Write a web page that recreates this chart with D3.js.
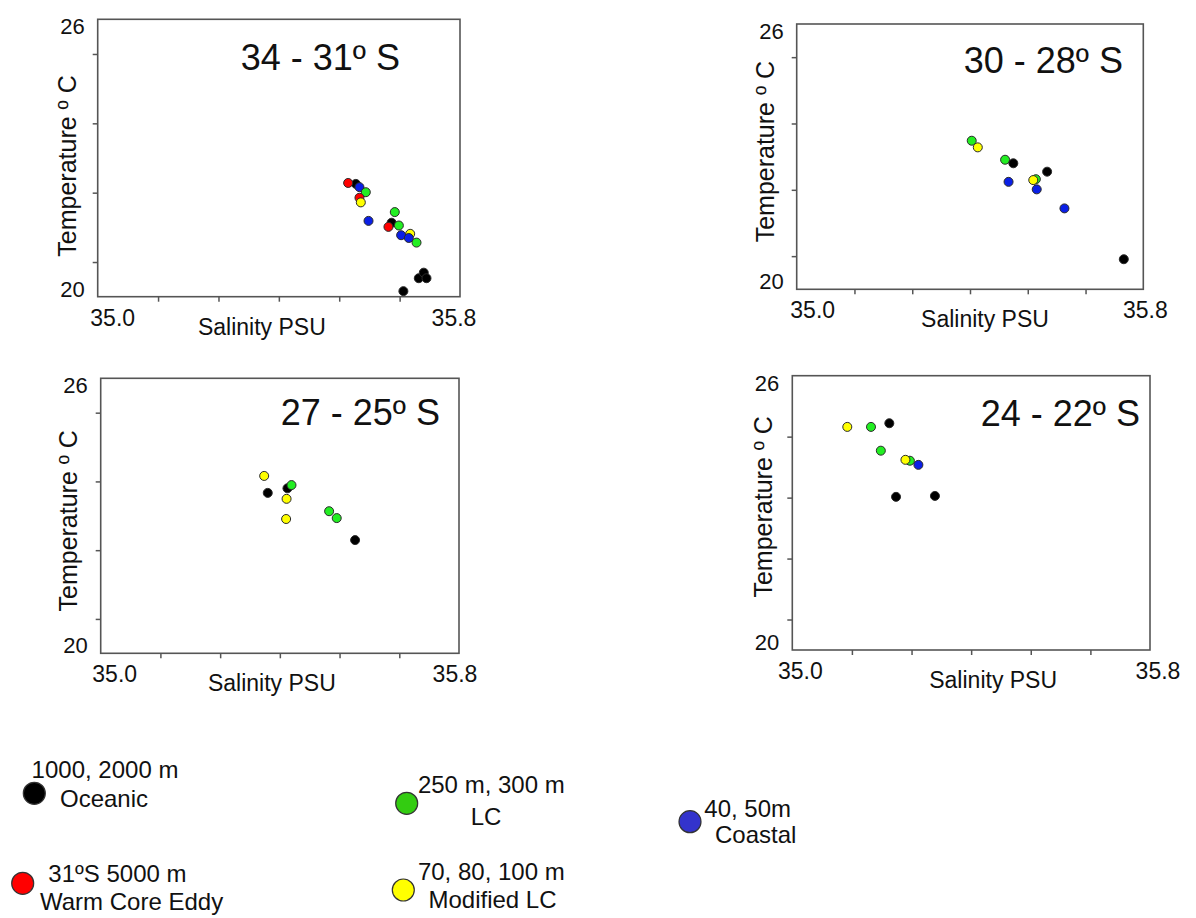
<!DOCTYPE html>
<html>
<head>
<meta charset="utf-8">
<script src="https://cdn.jsdelivr.net/npm/d3@7/dist/d3.min.js"></script>
<style>
  html, body { margin: 0; padding: 0; background: #fff; }
  svg { display: block; }
  text { font-family: "Liberation Sans", Arial, sans-serif; fill: #111; }
</style>
</head>
<body>
<svg id="chart" width="1196" height="918"></svg>
<script>
// T-S diagrams by latitude band, coloured by water mass / sampling depth.
const panelTitles = ["34 - 31º S", "30 - 28º S", "27 - 25º S", "24 - 22º S"];
const xLabel = "Salinity PSU";
const yLabel = "Temperature º C";
const salinityDomain = [35.0, 35.8];
const temperatureDomain = [20, 26];
const xEndLabels = ["35.0", "35.8"];
const yEndLabels = ["20", "26"];
const xTickValues = [35.1333, 35.2667, 35.4, 35.5333, 35.6667];
const yTickValuesA = [20.75, 22.25, 23.75, 25.25];
const yTickValuesB = [20.667, 22.0, 23.333, 24.667];

// [salinity, temperature, water mass] in drawing order
const band34to31 = [
  [35.570, 22.44, "oceanic"],
  [35.553, 22.46, "eddy"],
  [35.578, 22.37, "coastal"],
  [35.592, 22.26, "lc"],
  [35.578, 22.14, "eddy"],
  [35.581, 22.04, "modlc"],
  [35.598, 21.64, "coastal"],
  [35.649, 21.60, "oceanic"],
  [35.656, 21.83, "lc"],
  [35.642, 21.51, "eddy"],
  [35.665, 21.54, "lc"],
  [35.690, 21.36, "modlc"],
  [35.670, 21.33, "coastal"],
  [35.687, 21.27, "coastal"],
  [35.704, 21.17, "lc"],
  [35.709, 20.40, "oceanic"],
  [35.720, 20.52, "oceanic"],
  [35.726, 20.40, "oceanic"],
  [35.675, 20.12, "oceanic"]
];
const band30to28 = [
  [35.404, 23.36, "lc"],
  [35.418, 23.21, "modlc"],
  [35.481, 22.93, "lc"],
  [35.500, 22.85, "oceanic"],
  [35.578, 22.66, "oceanic"],
  [35.552, 22.49, "lc"],
  [35.546, 22.47, "modlc"],
  [35.489, 22.43, "coastal"],
  [35.554, 22.26, "coastal"],
  [35.618, 21.83, "coastal"],
  [35.755, 20.68, "oceanic"]
];
const band27to25 = [
  [35.365, 23.87, "modlc"],
  [35.373, 23.50, "oceanic"],
  [35.417, 23.60, "oceanic"],
  [35.426, 23.67, "lc"],
  [35.415, 23.37, "modlc"],
  [35.414, 22.93, "modlc"],
  [35.510, 23.10, "lc"],
  [35.527, 22.95, "lc"],
  [35.568, 22.47, "oceanic"]
];
const band24to22 = [
  [35.123, 24.88, "modlc"],
  [35.176, 24.88, "lc"],
  [35.217, 24.96, "oceanic"],
  [35.198, 24.36, "lc"],
  [35.263, 24.14, "lc"],
  [35.253, 24.16, "modlc"],
  [35.282, 24.05, "coastal"],
  [35.232, 23.35, "oceanic"],
  [35.319, 23.37, "oceanic"]
];
const bandData = [band34to31, band30to28, band27to25, band24to22];
const bandYTicks = [yTickValuesA, yTickValuesA, yTickValuesA, yTickValuesB];

const massKeys = ["oceanic", "lc", "coastal", "eddy", "modlc"];
const massDotColors = ["#000000", "#22ee22", "#0a1fe6", "#ff0000", "#ffff00"];
const massLegendColors = ["#000000", "#33cc11", "#3333cc", "#ff0000", "#ffff00"];
const legendLines = [
  ["1000, 2000 m", "Oceanic"],
  ["250 m, 300 m", "LC"],
  ["40, 50m", "Coastal"],
  ["31ºS 5000 m", "Warm Core Eddy"],
  ["70, 80, 100 m", "Modified LC"]
];

const dotColor = d3.scaleOrdinal(massKeys, massDotColors);
const legendColor = d3.scaleOrdinal(massKeys, massLegendColors);

// panel frames
const frames = [
  { left: 97.7,  top: 19.3,  right: 460,    bottom: 296.7, titleEnd: 400,  titleDy: 51, yLabDx: -22, yLabDy: 8,  xLabDx: -17, x0Dx: 15, x1Dx: -6 },
  { left: 796.7, top: 24,    right: 1143.3, bottom: 289.3, titleEnd: 1123, titleDy: 49, yLabDx: -23, yLabDy: -5, xLabDx: 15,  x0Dx: 16, x1Dx: 2 },
  { left: 100.7, top: 378.3, right: 459,    bottom: 653.3, titleEnd: 440,  titleDy: 47, yLabDx: -24, yLabDy: 5,  xLabDx: -8,  x0Dx: 14, x1Dx: -4 },
  { left: 792.3, top: 375.7, right: 1150,   bottom: 650,   titleEnd: 1140, titleDy: 50, yLabDx: -20, yLabDy: -6, xLabDx: 22,  x0Dx: 8,  x1Dx: 8 }
];

const svg = d3.select("#chart");

frames.forEach((f, i) => {
  const x = d3.scaleLinear().domain(salinityDomain).range([f.left, f.right]);
  const y = d3.scaleLinear().domain(temperatureDomain).range([f.bottom, f.top]);
  const g = svg.append("g");

  // frame
  g.append("rect")
    .attr("x", f.left).attr("y", f.top)
    .attr("width", f.right - f.left).attr("height", f.bottom - f.top)
    .attr("fill", "none").attr("stroke", "#555").attr("stroke-width", 1.6);

  // tick marks
  const xa = g.append("g").attr("transform", `translate(0,${f.bottom})`)
    .call(d3.axisBottom(x).tickValues(xTickValues).tickSize(5).tickFormat(""));
  const ya = g.append("g").attr("transform", `translate(${f.left},0)`)
    .call(d3.axisLeft(y).tickValues(bandYTicks[i]).tickSize(5).tickFormat(""));
  [xa, ya].forEach(a => {
    a.select(".domain").remove();
    a.selectAll("line").attr("stroke", "#555").attr("stroke-width", 1.5);
  });

  // end labels
  g.append("text").attr("x", x(salinityDomain[0]) + f.x0Dx).attr("y", f.bottom + 29)
    .attr("text-anchor", "middle").attr("font-size", 23).text(xEndLabels[0]);
  g.append("text").attr("x", x(salinityDomain[1]) + f.x1Dx).attr("y", f.bottom + 29)
    .attr("text-anchor", "middle").attr("font-size", 23).text(xEndLabels[1]);
  g.append("text").attr("x", f.left - 13).attr("y", y(temperatureDomain[0]))
    .attr("text-anchor", "end").attr("font-size", 22).text(yEndLabels[0]);
  g.append("text").attr("x", f.left - 13).attr("y", y(temperatureDomain[1]) + 15)
    .attr("text-anchor", "end").attr("font-size", 22).text(yEndLabels[1]);

  // axis titles
  g.append("text").attr("x", (f.left + f.right) / 2 + f.xLabDx).attr("y", f.bottom + 38)
    .attr("text-anchor", "middle").attr("font-size", 23).text(xLabel);
  const cy = (f.top + f.bottom) / 2 + f.yLabDy;
  g.append("text")
    .attr("transform", `translate(${f.left + f.yLabDx},${cy}) rotate(-90)`)
    .attr("text-anchor", "middle").attr("font-size", 25).text(yLabel);

  // band title
  g.append("text").attr("x", f.titleEnd).attr("y", f.top + f.titleDy)
    .attr("text-anchor", "end").attr("font-size", 36).text(panelTitles[i]);

  // samples
  g.append("g").selectAll("circle")
    .data(bandData[i])
    .join("circle")
    .attr("cx", d => x(d[0]))
    .attr("cy", d => y(d[1]))
    .attr("r", 4.5)
    .attr("fill", d => dotColor(d[2]))
    .attr("stroke", "#2a2a2a")
    .attr("stroke-width", 1);
});

// legend
const legendPos = [
  { cx: 34.3,  cy: 793.3, lines: [[105, 778.3, "middle"], [104, 806.7, "middle"]] },
  { cx: 406.7, cy: 803.3, lines: [[491.3, 793.3, "middle"], [486, 825, "middle"]] },
  { cx: 690,   cy: 821.7, lines: [[704.3, 816.7, "start"], [715, 843.3, "start"]] },
  { cx: 22.7,  cy: 883.3, lines: [[48.3, 881.7, "start"], [40, 910, "start"]] },
  { cx: 403.3, cy: 890,   lines: [[491.3, 880, "middle"], [492.5, 908.3, "middle"]] }
];
const legend = svg.append("g");
massKeys.forEach((k, i) => {
  const p = legendPos[i];
  legend.append("circle").attr("cx", p.cx).attr("cy", p.cy).attr("r", 11)
    .attr("fill", legendColor(k)).attr("stroke", "#333").attr("stroke-width", 1.2);
  legendLines[i].forEach((t, j) => {
    const l = p.lines[j];
    legend.append("text").attr("x", l[0]).attr("y", l[1])
      .attr("text-anchor", l[2]).attr("font-size", 24).text(t);
  });
});
</script>
</body>
</html>
